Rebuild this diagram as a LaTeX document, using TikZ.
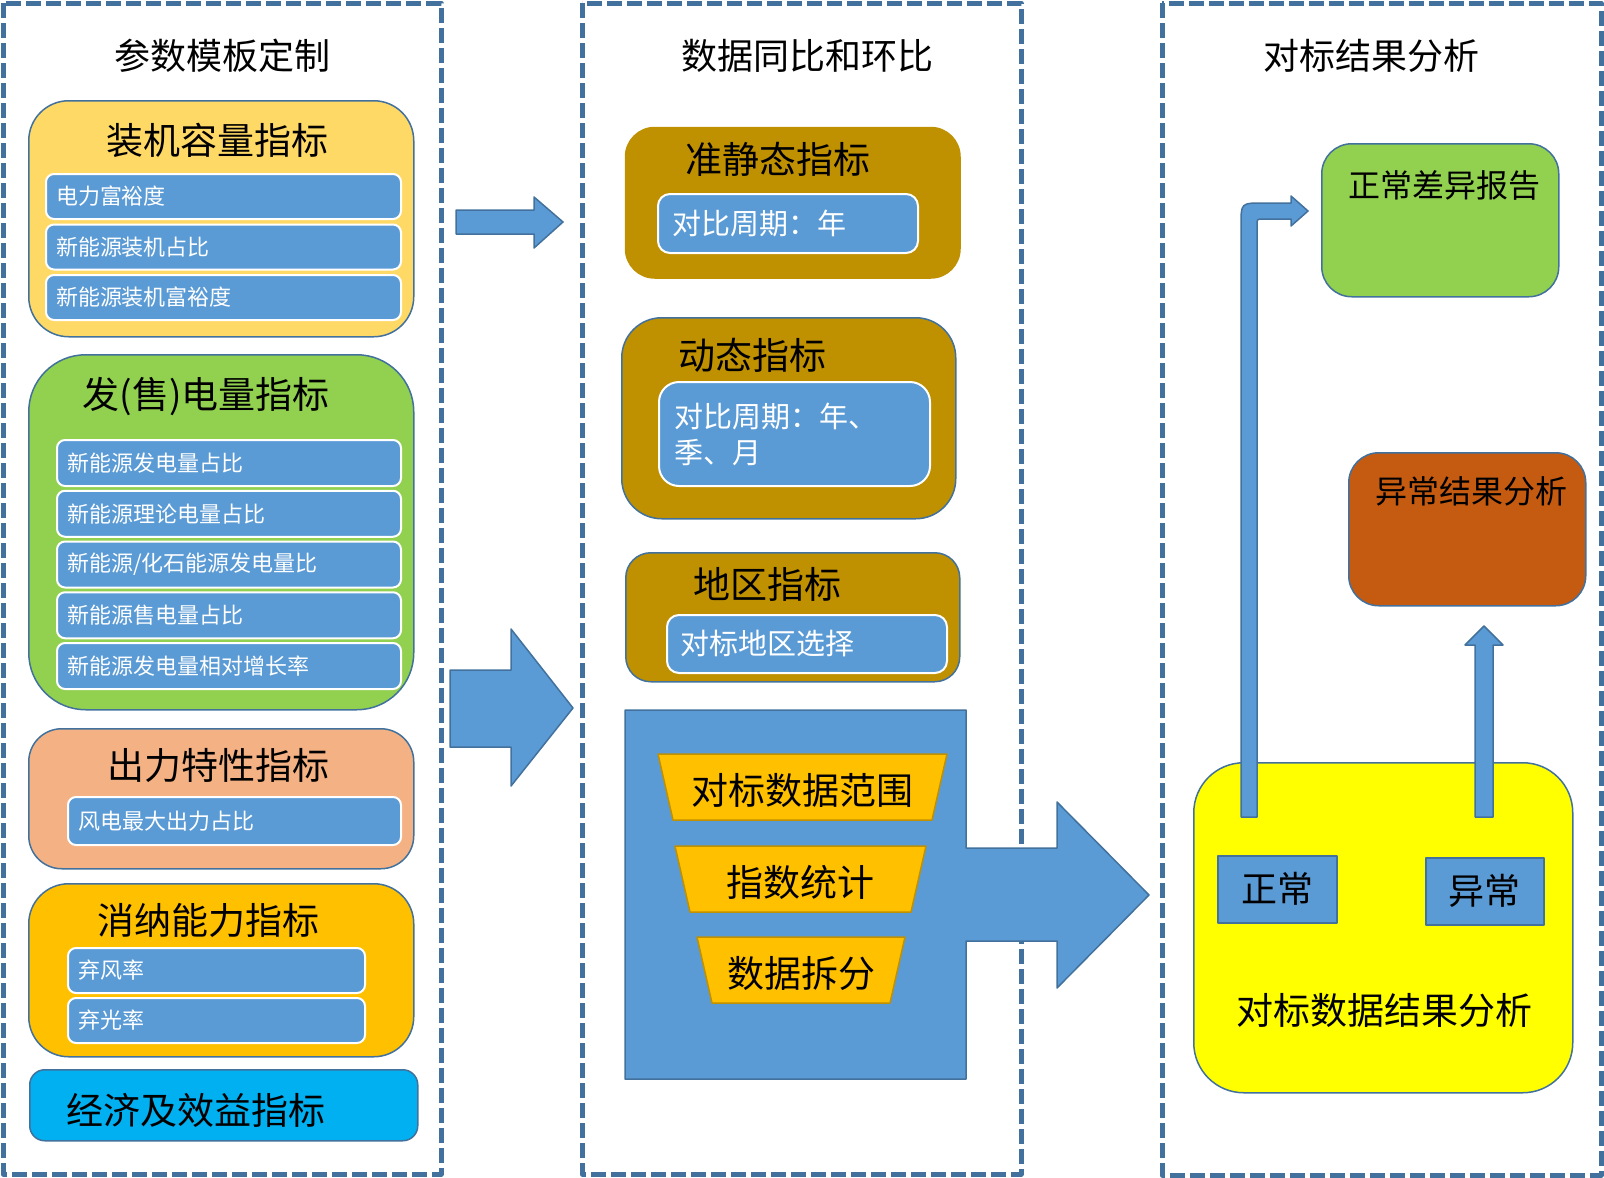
\documentclass[tikz,border=0pt]{standalone}
\usepackage{fontspec}
\setmainfont{Noto Sans CJK SC}
\usetikzlibrary{positioning}
\definecolor{framec}{HTML}{41719C}
\definecolor{itemc}{HTML}{5B9BD5}
\definecolor{capc}{HTML}{FFD966}
\definecolor{genc}{HTML}{92D050}
\definecolor{outc}{HTML}{F4B183}
\definecolor{absc}{HTML}{FFC000}
\definecolor{ecoc}{HTML}{00B0F0}
\definecolor{goldc}{HTML}{BF9000}
\definecolor{brownc}{HTML}{C55A11}
\definecolor{resc}{HTML}{FFFF00}
\tikzset{
  frame/.style={draw=framec, line width=5pt, dash pattern=on 15pt off 5pt},
  panel/.style={draw=framec, line width=1.5pt, rounded corners=#1, anchor=north west, inner sep=0pt},
  item/.style={draw=white, line width=2pt, fill=itemc, rounded corners=8pt, text=white, anchor=north west,
    align=left, inner xsep=10pt, inner ysep=0pt, font=\fontsize{22pt}{26pt}\selectfont},
  mitem/.style={item, rounded corners=12pt, inner xsep=14pt, font=\fontsize{29pt}{36pt}\selectfont},
  coltitle/.style={inner sep=0pt, font=\fontsize{36pt}{40pt}\selectfont},
  head/.style={inner sep=0pt, font=\fontsize{37pt}{42pt}\selectfont},
  rhead/.style={inner sep=0pt, font=\fontsize{32pt}{36pt}\selectfont},
  block/.style={fill=itemc, draw=framec, line width=1.5pt},
  trap/.style={fill=absc, draw=goldc, line width=1.5pt},
  tag/.style={block, anchor=north west, inner sep=0pt, font=\fontsize{36pt}{40pt}\selectfont}
}
\begin{document}
\begin{tikzpicture}[x=1pt, y=-1pt, line join=round]
\useasboundingbox (0,0) rectangle (1604,1178);
\draw[frame] (3,3) rectangle (441,1174);
\draw[frame] (582,3) rectangle (1021,1174);
\draw[frame] (1162,3) rectangle (1601,1175);
\node[coltitle] (t1) at (222,56) {参数模板定制};
\node[coltitle] (t2) at (807,56) {数据同比和环比};
\node[coltitle] (t3) at (1371,56) {对标结果分析};

% left column
\node[panel=40pt, fill=capc, minimum width=385pt, minimum height=236pt] (cap) at (28,100) {};
\node[head] (caph) at (217,140) {装机容量指标};
\foreach \t [count=\i] in {电力富裕度,新能源装机占比,新能源装机富裕度}
  \node[item, text width=335pt, minimum height=45pt] (cap\i) at (45,{173+50.5*(\i-1)}) {\t};
\node[panel=57pt, fill=genc, minimum width=385pt, minimum height=355pt] (gen) at (28,354) {};
\node[head] (genh) at (206,397) {发(售)电量指标};
\foreach \t [count=\i] in {新能源发电量占比,新能源理论电量占比,新能源/化石能源发电量比,新能源售电量占比,新能源发电量相对增长率}
  \node[item, text width=324pt, minimum height=46pt] (gen\i) at (56,{439+50.75*(\i-1)}) {\t};
\node[panel=33pt, fill=outc, minimum width=385pt, minimum height=140pt] (out) at (28,728) {};
\node[head] (outh) at (218,765) {出力特性指标};
\node[item, text width=313pt, minimum height=48pt] (out1) at (67,796) {风电最大出力占比};
\node[panel=40pt, fill=absc, minimum width=385pt, minimum height=173pt] (abs) at (28,883) {};
\node[head] (absh) at (208,920) {消纳能力指标};
\foreach \t [count=\i] in {弃风率,弃光率}
  \node[item, text width=277pt, minimum height=45pt] (abs\i) at (67,{947+50*(\i-1)}) {\t};
\node[panel=15pt, fill=ecoc, minimum width=388pt, minimum height=71pt] (eco) at (29,1069) {};
\node[head] (ecoh) at (196,1110) {经济及效益指标};

% arrows into the middle column
\draw[block] (456,210) -- (534,210) -- (534,197) -- (563,222) -- (534,248) -- (534,234) -- (456,234) -- cycle;
\draw[block] (450,670) -- (511,670) -- (511,629) -- (573,708) -- (511,786) -- (511,747) -- (450,747) -- cycle;

% middle column
\node[panel=30pt, draw=none, fill=goldc, minimum width=336pt, minimum height=152pt] (qs) at (624,126) {};
\node[head] (qsh) at (778,159) {准静态指标};
\node[mitem, text width=232pt, minimum height=59pt] (qs1) at (657,193) {对比周期：年};
\node[panel=40pt, fill=goldc, minimum width=334pt, minimum height=201pt] (dyn) at (621,317) {};
\node[head] (dynh) at (752,355) {动态指标};
\node[mitem, rounded corners=20pt, inner xsep=15pt, text width=241pt, minimum height=104pt] (dyn1) at (658,381) {对比周期：年、\\季、月};
\node[panel=25pt, fill=goldc, minimum width=334pt, minimum height=129pt] (reg) at (625,552) {};
\node[head] (regh) at (767,584) {地区指标};
\node[mitem, inner xsep=13pt, text width=254pt, minimum height=58pt] (reg1) at (666,614) {对标地区选择};
\draw[block] (625,710) -- (966,710) -- (966,848) -- (1057,848) -- (1057,802) -- (1149,895)
  -- (1057,988) -- (1057,941) -- (966,941) -- (966,1079) -- (625,1079) -- cycle;
\foreach \l/\r/\y/\t [count=\i] in {658/947/754/对标数据范围,675/926/846/指数统计,697/905/937/数据拆分}{
  \draw[trap] (\l,\y) -- (\r,\y) -- (\r-15,\y+66) -- (\l+15,\y+66) -- cycle;
  \node[head] (st\i) at ({(\l+\r)/2},\y+36) {\t};
}

% right column
\node[panel=30pt, fill=genc, minimum width=237pt, minimum height=153pt] (rep) at (1321,143) {};
\node[rhead] (reph) at (1444,185) {正常差异报告};
\node[panel=30pt, fill=brownc, minimum width=237pt, minimum height=153pt] (ana) at (1348,452) {};
\node[rhead] (anah) at (1471,491) {异常结果分析};
\node[panel=50pt, fill=resc, minimum width=379pt, minimum height=330pt] (res) at (1193,762) {};
\node[head] (resh) at (1384,1010) {对标数据结果分析};
\draw[block] (1241,817) -- (1241,225) .. controls (1241,203) .. (1263,203) -- (1291,203) -- (1291,196)
  -- (1308,211) -- (1291,226) -- (1291,219) -- (1263,219) .. controls (1257,219) .. (1257,225) -- (1257,817) -- cycle;
\draw[block] (1475,817) -- (1475,645) -- (1465,645) -- (1484,626) -- (1503,645) -- (1493,645) -- (1493,817) -- cycle;
\node[tag, minimum width=119pt, minimum height=67pt] (ok) at (1217,855) {正常};
\node[tag, minimum width=118pt, minimum height=67pt] (bad) at (1425,857) {异常};
\end{tikzpicture}
\end{document}
